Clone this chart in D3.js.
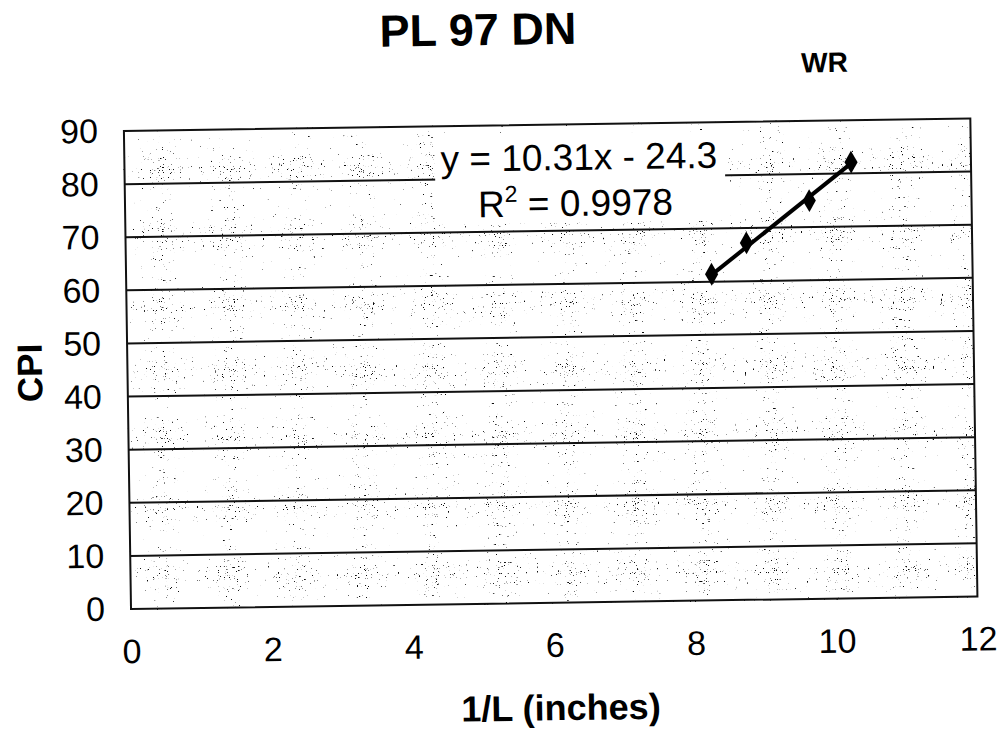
<!DOCTYPE html>
<html>
<head>
<meta charset="utf-8">
<script src="https://cdn.jsdelivr.net/npm/d3@7"></script>
<style>
  html, body { margin: 0; padding: 0; background: #fff; }
  svg { display: block; }
  text { font-family: "Liberation Sans", Arial, sans-serif; fill: #000; }
</style>
</head>
<body>
<svg id="chart" width="1005" height="737"></svg>
<script>
// Axis ticks
const xTicks = [0, 2, 4, 6, 8, 10, 12];
const yTicks = [0, 10, 20, 30, 40, 50, 60, 70, 80, 90];

// WR series (1/L in inches vs CPI)
const wrX = [8.3, 8.8, 9.7, 10.3];
const wrY = [61.4, 67.2, 75.0, 82.1];

// Linear trendline fitted to WR
const trendSlope = 10.31;
const trendIntercept = -24.3;
const trendR2 = 0.9978;

const svg = d3.select("#chart");
const W = 1005, H = 737;
const margin = { left: 127.5, right: 1005 - 974, top: 125.5, bottom: 737 - 603.5 };

const x = d3.scaleLinear().domain([0, 12]).range([margin.left, W - margin.right]);
const y = d3.scaleLinear().domain([0, 90]).range([H - margin.bottom, margin.top]);

// Speckled plot-area fill
const defs = svg.append("defs");
const f = defs.append("filter").attr("id", "speckle")
  .attr("x", 0).attr("y", 0).attr("width", 1).attr("height", 1)
  .attr("filterUnits", "objectBoundingBox");
f.append("feTurbulence").attr("type", "fractalNoise")
  .attr("baseFrequency", 0.9).attr("numOctaves", 3).attr("seed", 11).attr("result", "n");
f.append("feColorMatrix").attr("type", "matrix")
  .attr("values", "0 0 0 0 0  0 0 0 0 0  0 0 0 0 0  1 0 0 0 0").attr("result", "a");
const ct = f.append("feComponentTransfer");
ct.append("feFuncA").attr("type", "linear").attr("slope", 12).attr("intercept", -12 * 0.655);

const root = svg.append("g").attr("transform", "rotate(-0.85 500 370)");

const plotW = x(12) - x(0), plotH = y(0) - y(90);
root.append("rect").attr("x", x(0)).attr("y", y(90))
  .attr("width", plotW).attr("height", plotH).attr("fill", "#fff");
root.append("rect").attr("x", x(0)).attr("y", y(90))
  .attr("width", plotW).attr("height", plotH)
  .attr("fill", "#000").attr("filter", "url(#speckle)").attr("opacity", 0.95);

// Horizontal gridlines
root.append("g")
  .selectAll("line").data(yTicks.filter(d => d > 0 && d < 90)).join("line")
  .attr("x1", x(0)).attr("x2", x(12))
  .attr("y1", d => y(d)).attr("y2", d => y(d))
  .attr("stroke", "#111").attr("stroke-width", 2);

// Plot frame
root.append("rect").attr("x", x(0)).attr("y", y(90))
  .attr("width", plotW).attr("height", plotH)
  .attr("fill", "none").attr("stroke", "#111").attr("stroke-width", 2);

// Axes (labels only; frame serves as axis lines)
const xAxis = d3.axisBottom(x).tickValues(xTicks).tickSize(0).tickPadding(30)
  .tickFormat(d3.format("d"));
const gx = root.append("g").attr("transform", `translate(0,${y(0)})`).call(xAxis);
gx.select(".domain").remove();
gx.selectAll("text").style("font-size", "34px").attr("fill", "#000");

const yAxis = d3.axisLeft(y).tickValues(yTicks).tickSize(0).tickPadding(26)
  .tickFormat(d3.format("d"));
const gy = root.append("g").attr("transform", `translate(${x(0)},0)`).call(yAxis);
gy.select(".domain").remove();
gy.selectAll("text").style("font-size", "34px").attr("fill", "#000");

// Trendline label with white backing
const lblCx = 582;
root.append("rect").attr("x", 438).attr("y", 134).attr("width", 290).attr("height", 90).attr("fill", "#fff");
root.append("text").attr("x", lblCx).attr("y", 171).attr("text-anchor", "middle")
  .style("font-size", "37px")
  .text(`y = ${trendSlope}x - ${Math.abs(trendIntercept)}`);
const r2 = root.append("text").attr("x", lblCx - 4).attr("y", 217).attr("text-anchor", "middle")
  .style("font-size", "37px");
r2.append("tspan").text("R");
r2.append("tspan").attr("dy", -15).style("font-size", "23px").text("2");
r2.append("tspan").attr("dy", 15).text(` = ${trendR2}`);

// Trendline
const xMin = d3.min(wrX), xMax = d3.max(wrX);
root.append("line")
  .attr("x1", x(xMin)).attr("y1", y(trendSlope * xMin + trendIntercept))
  .attr("x2", x(xMax)).attr("y2", y(trendSlope * xMax + trendIntercept))
  .attr("stroke", "#000").attr("stroke-width", 4);

// WR markers
const diamond = d3.symbol().type(d3.symbolDiamond).size(150);
root.append("g").selectAll("path").data(wrX.map((v, i) => [v, wrY[i]])).join("path")
  .attr("transform", d => `translate(${x(d[0])},${y(d[1])})`)
  .attr("d", diamond).attr("fill", "#000");

// Titles
root.append("text").attr("x", 483).attr("y", 45).attr("text-anchor", "middle")
  .style("font-size", "45px").style("font-weight", "bold").text("PL 97 DN");
root.append("text").attr("x", 829).attr("y", 77).attr("text-anchor", "middle")
  .style("font-size", "28px").style("font-weight", "bold").text("WR");
root.append("text").attr("transform", "translate(42,366) rotate(-90)").attr("text-anchor", "middle")
  .style("font-size", "35px").style("font-weight", "bold").text("CPI");
root.append("text").attr("x", 556).attr("y", 721).attr("text-anchor", "middle")
  .style("font-size", "36px").style("font-weight", "bold").text("1/L (inches)");
</script>
</body>
</html>
